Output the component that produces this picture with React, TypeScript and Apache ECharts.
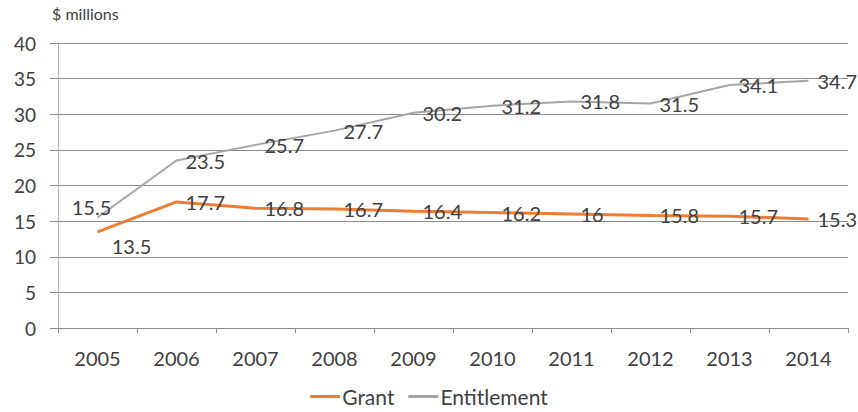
import React, { useEffect, useRef } from "react";
import * as echarts from "echarts";

const years = ["2005", "2006", "2007", "2008", "2009", "2010", "2011", "2012", "2013", "2014"];
const grant = [13.5, 17.7, 16.8, 16.7, 16.4, 16.2, 16, 15.8, 15.7, 15.3];
const entitlement = [15.5, 23.5, 25.7, 27.7, 30.2, 31.2, 31.8, 31.5, 34.1, 34.7];
const unitLabel = "$ millions";

const FONT = "Lato, 'Open Sans', sans-serif";
const TEXT = "#404040";

export default function App() {
  const ref = useRef<HTMLDivElement>(null);
  useEffect(() => {
    if (!ref.current) return;
    const chart = echarts.init(ref.current, null, { renderer: "svg" });
    const labelBase = {
      show: true,
      position: "right" as const,
      distance: 9,
      fontFamily: FONT,
      fontSize: 20,
      color: TEXT,
    };
    const grantData = grant.map((v, i) =>
      i === 0
        ? { value: v, label: { position: "bottom" as const, offset: [34, -5] } }
        : v
    );
    const entData = entitlement.map((v, i) =>
      i === 0
        ? { value: v, label: { position: "top" as const, offset: [-6, 8] } }
        : v
    );
    chart.setOption({
      animation: false,
      backgroundColor: "#ffffff",
      textStyle: { fontFamily: FONT },
      grid: { left: 58, right: 10, top: 43, bottom: 84, containLabel: false },
      graphic: [
        {
          type: "text",
          left: 52,
          top: 5,
          style: { text: unitLabel, fontFamily: FONT, fontSize: 16, fill: TEXT },
        },
      ],
      legend: {
        bottom: 0,
        left: "center",
        icon: "rect",
        itemWidth: 30,
        itemHeight: 3,
        itemGap: 14,
        textStyle: { fontFamily: FONT, fontSize: 21, color: TEXT, padding: [0, 0, 0, -3] },
        data: ["Grant", "Entitlement"],
      },
      xAxis: {
        type: "category",
        data: years,
        boundaryGap: true,
        axisLine: { show: true, lineStyle: { color: "#8c8c8c", width: 1, type: [3, 2] } },
        axisTick: { show: true, length: 5, alignWithLabel: false, lineStyle: { color: "#8c8c8c" } },
        axisLabel: { fontFamily: FONT, fontSize: 20, color: TEXT, margin: 20 },
      },
      yAxis: {
        type: "value",
        min: 0,
        max: 40,
        interval: 5,
        axisLine: { show: true, lineStyle: { color: "#b0b0b0", width: 1 } },
        axisTick: { show: true, length: 8, lineStyle: { color: "#8c8c8c" } },
        axisLabel: { fontFamily: FONT, fontSize: 19, color: TEXT, margin: 22 },
        splitLine: { show: true, lineStyle: { color: "#8c8c8c", width: 1 } },
      },
      series: [
        {
          name: "Grant",
          type: "line",
          data: grantData,
          showSymbol: true,
          symbol: "circle",
          symbolSize: 0.01,
          lineStyle: { color: "#ED7D31", width: 3 },
          itemStyle: { color: "#ED7D31" },
          label: labelBase,
          z: 3,
        },
        {
          name: "Entitlement",
          type: "line",
          data: entData,
          showSymbol: true,
          symbol: "circle",
          symbolSize: 0.01,
          lineStyle: { color: "#a5a5a5", width: 2 },
          itemStyle: { color: "#a5a5a5" },
          label: labelBase,
          z: 2,
        },
      ],
    });
    return () => chart.dispose();
  }, []);
  return (
    <div
      ref={ref}
      style={{ position: "fixed", left: 0, top: 0, width: 858, height: 412 }}
    />
  );
}
